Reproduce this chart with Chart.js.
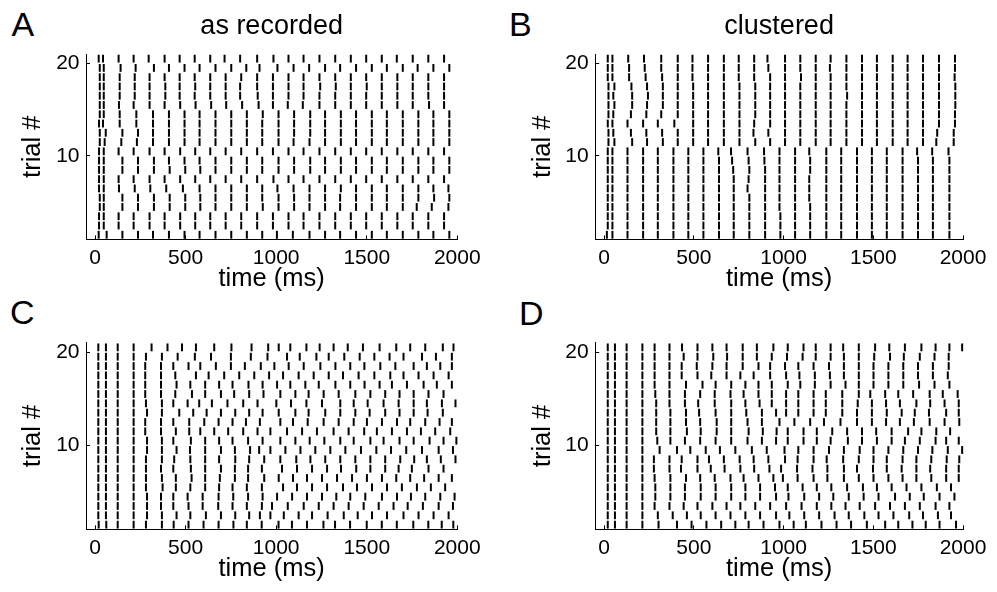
<!DOCTYPE html>
<html>
<head>
<meta charset="utf-8">
<title>Spike rasters</title>
<script src="https://cdn.jsdelivr.net/npm/chart.js"></script>
<style>
  body { margin: 0; background: #fff; }
  #wrap { position: relative; width: 997px; height: 592px; overflow: hidden; }
  canvas { position: absolute; }
  .letter { position: absolute; font-family: 'Liberation Sans', Arial, sans-serif; font-size: 34px; line-height: 1; color: #000; }
</style>
</head>
<body>
<div id="wrap">
  <div class="letter" style="left:11.5px; top:7.3px;">A</div>
  <div class="letter" style="left:509px; top:7.3px;">B</div>
  <div class="letter" style="left:10px; top:294.5px;">C</div>
  <div class="letter" style="left:519px; top:295.5px;">D</div>
  <canvas id="panel-a" width="498" height="296" style="left:0; top:0;"></canvas>
  <canvas id="panel-b" width="499" height="296" style="left:498px; top:0;"></canvas>
  <canvas id="panel-c" width="498" height="296" style="left:0; top:296px;"></canvas>
  <canvas id="panel-d" width="499" height="296" style="left:498px; top:296px;"></canvas>
</div>
<script>
// spike times in ms, one list per trial, listed from trial 20 (top) down to trial 1
const spikesA = [
  [20,44,130,213,296,384,467,550,636,715,801,895,985,1068,1151,1239,1326,1412,1497,1583,1666,1754,1840,1927],
  [26,48,141,224,325,408,494,577,665,752,835,908,1007,1096,1182,1270,1353,1441,1528,1611,1699,1781,1868,1956],
  [26,48,136,219,301,384,467,550,636,721,807,895,982,1068,1151,1239,1326,1412,1497,1583,1669,1754,1840,1927],
  [26,48,136,219,301,388,467,553,636,721,801,895,982,1068,1151,1243,1329,1412,1500,1583,1669,1754,1840,1927],
  [26,48,136,219,301,388,467,550,636,721,801,898,982,1068,1151,1239,1326,1412,1497,1583,1669,1754,1840,1927],
  [26,48,132,213,301,384,470,555,641,724,812,903,982,1064,1147,1239,1326,1412,1497,1583,1669,1754,1844,1927],
  [26,48,136,228,320,408,494,577,665,752,838,926,1013,1099,1188,1270,1357,1441,1528,1611,1699,1785,1868,1956],
  [22,44,136,228,320,408,494,577,665,752,838,923,1013,1099,1188,1270,1357,1441,1528,1611,1699,1785,1868,1956],
  [26,59,151,237,320,408,494,577,665,752,838,923,1013,1099,1188,1270,1357,1441,1528,1611,1699,1785,1868,1956],
  [26,53,145,231,320,408,494,577,665,752,838,923,1013,1096,1184,1270,1357,1441,1528,1611,1699,1785,1868,1956],
  [22,48,130,213,301,384,470,553,636,721,807,895,982,1068,1151,1239,1326,1412,1497,1583,1669,1754,1840,1927],
  [22,48,151,237,325,408,494,577,665,752,838,923,1013,1099,1188,1270,1357,1441,1528,1611,1699,1785,1868,1956],
  [22,48,151,237,325,412,498,581,665,752,838,923,1013,1099,1188,1270,1357,1441,1528,1611,1699,1785,1868,1956],
  [22,48,130,213,301,384,470,553,636,721,807,895,985,1068,1151,1239,1326,1412,1497,1583,1669,1754,1840,1927],
  [22,48,132,219,305,393,485,577,665,752,838,923,1007,1096,1184,1270,1357,1441,1528,1611,1699,1785,1868,1951],
  [26,48,151,237,325,412,498,581,665,752,838,923,1013,1099,1184,1270,1353,1441,1528,1611,1699,1785,1872,1956],
  [26,48,151,237,325,412,498,581,665,752,838,926,1013,1099,1184,1270,1353,1441,1528,1611,1699,1776,1859,1951],
  [22,48,130,213,301,384,470,553,636,721,807,895,982,1068,1151,1239,1326,1412,1497,1583,1669,1754,1840,1927],
  [22,48,130,213,301,384,470,553,636,721,807,895,982,1068,1151,1239,1326,1412,1497,1583,1669,1754,1840,1927],
  [20,64,151,237,320,408,494,577,665,752,838,923,1004,1092,1184,1270,1353,1441,1528,1611,1699,1785,1868,1956]
];

const spikesB = [
  [20,46,134,222,318,410,492,579,667,750,836,910,1008,1093,1179,1262,1350,1437,1520,1608,1691,1777,1866,1955],
  [20,46,139,226,318,410,492,579,667,750,836,915,1008,1093,1179,1258,1350,1437,1520,1608,1691,1777,1866,1955],
  [20,46,139,231,323,410,492,579,667,750,836,925,1008,1097,1179,1262,1350,1437,1520,1608,1691,1777,1866,1953],
  [24,57,152,239,327,410,496,579,667,754,842,925,1008,1093,1179,1262,1350,1437,1520,1608,1691,1777,1866,1957],
  [24,51,156,244,327,410,496,579,667,754,842,925,1008,1093,1179,1262,1354,1437,1520,1608,1691,1777,1866,1957],
  [24,57,156,239,327,410,496,579,667,754,842,925,1008,1093,1179,1262,1350,1437,1520,1608,1691,1777,1866,1957],
  [24,51,149,235,318,410,496,579,667,754,842,925,1008,1093,1179,1262,1350,1437,1520,1608,1691,1777,1866,1955],
  [20,46,130,217,299,391,496,579,667,754,836,925,1008,1093,1179,1262,1350,1437,1520,1608,1691,1777,1866,1955],
  [24,51,149,235,323,410,496,579,667,754,832,915,1008,1093,1179,1262,1350,1437,1520,1608,1691,1777,1856,1948],
  [24,57,156,239,327,410,496,579,667,754,842,925,1008,1093,1179,1262,1350,1437,1520,1608,1691,1777,1851,1948],
  [20,46,130,217,299,386,469,553,636,707,799,891,977,1064,1143,1238,1321,1409,1492,1575,1663,1744,1828,1919],
  [20,46,130,217,299,386,469,553,640,713,805,893,977,1064,1148,1238,1321,1409,1492,1575,1663,1749,1832,1924],
  [20,46,130,217,299,386,469,553,640,719,809,897,977,1064,1148,1238,1321,1409,1492,1575,1663,1749,1832,1924],
  [20,46,130,217,299,386,469,553,640,722,805,897,977,1064,1143,1238,1321,1409,1492,1575,1663,1749,1832,1924],
  [20,46,130,217,299,386,469,553,640,722,799,897,977,1064,1143,1238,1321,1409,1492,1575,1663,1749,1832,1924],
  [20,46,130,217,299,386,469,553,640,722,809,897,977,1064,1143,1238,1321,1409,1492,1575,1663,1749,1832,1924],
  [20,46,130,217,299,386,469,553,640,722,809,897,977,1064,1148,1238,1321,1409,1492,1575,1663,1749,1832,1924],
  [20,46,130,217,299,386,469,553,640,722,809,897,982,1064,1148,1238,1321,1409,1492,1575,1663,1749,1832,1924],
  [20,46,130,217,299,386,469,553,640,722,809,897,982,1064,1148,1238,1321,1409,1492,1575,1663,1749,1832,1924],
  [15,46,130,217,299,386,469,553,640,722,809,897,982,1064,1148,1238,1321,1409,1492,1575,1663,1749,1832,1924]
];

const spikesC = [
  [18,60,125,213,312,400,480,557,658,753,864,956,1014,1078,1167,1240,1317,1395,1479,1571,1663,1740,1823,1920,1979],
  [18,60,125,213,281,369,456,551,640,750,860,952,1060,1130,1222,1290,1376,1461,1542,1626,1703,1805,1882,1970],
  [18,60,125,213,277,364,432,516,581,667,750,827,915,990,1069,1152,1244,1327,1409,1487,1575,1658,1759,1832,1906,1970],
  [18,60,125,213,277,364,443,557,627,713,796,879,961,1038,1124,1207,1290,1369,1455,1542,1630,1703,1786,1869,1952],
  [18,60,125,213,277,364,450,526,608,685,759,847,925,1005,1078,1161,1235,1327,1409,1488,1571,1639,1722,1814,1887,1970],
  [18,60,125,213,277,364,443,535,608,695,768,851,930,1023,1106,1179,1262,1345,1437,1520,1602,1681,1759,1841,1924],
  [18,60,125,213,281,369,432,511,575,645,731,818,897,1001,1082,1167,1253,1354,1428,1505,1593,1676,1759,1832,1915,1990],
  [18,60,125,213,287,369,465,542,616,695,774,851,925,1014,1106,1179,1271,1354,1437,1516,1602,1681,1759,1836,1920],
  [18,60,125,213,277,364,432,520,603,682,759,833,910,1023,1093,1174,1262,1345,1428,1501,1584,1667,1740,1823,1902,1970],
  [18,60,125,213,277,364,446,520,581,658,735,818,897,968,1060,1143,1225,1317,1400,1486,1556,1639,1722,1799,1878,1961],
  [18,60,125,213,287,369,432,529,608,685,759,845,925,1023,1106,1185,1266,1354,1428,1520,1593,1681,1759,1847,1924,1995],
  [18,60,125,213,287,369,450,524,608,695,772,856,906,968,1051,1134,1216,1299,1382,1468,1553,1634,1718,1805,1897,1976],
  [18,60,125,213,281,369,437,526,608,685,774,851,934,1023,1111,1189,1271,1354,1437,1520,1602,1685,1762,1832,1909,1990],
  [18,60,125,213,281,364,432,529,608,695,772,845,921,1032,1115,1198,1281,1358,1442,1520,1602,1676,1749,1841,1924],
  [18,60,125,213,281,369,446,533,608,689,772,845,934,1014,1093,1170,1253,1336,1419,1501,1584,1663,1740,1817,1897,1970],
  [18,60,125,213,281,373,446,526,608,685,759,838,921,1038,1115,1198,1281,1369,1446,1529,1612,1694,1777,1854,1933],
  [18,60,125,213,287,364,432,511,594,682,763,845,925,1005,1088,1170,1253,1332,1409,1492,1584,1667,1744,1823,1906,1985],
  [18,60,125,213,287,364,432,516,594,680,759,838,921,977,1064,1152,1235,1317,1400,1483,1566,1648,1726,1810,1897,1976],
  [18,60,125,213,287,369,450,526,612,695,774,851,910,968,1042,1124,1198,1284,1373,1450,1529,1612,1703,1786,1869,1952],
  [20,62,125,213,281,369,434,516,599,682,764,838,920,1013,1087,1170,1261,1325,1408,1500,1583,1666,1757,1840,1914,1978]
];

const spikesD = [
  [20,60,125,213,281,364,434,520,603,682,772,851,943,1023,1111,1179,1262,1332,1419,1510,1589,1676,1768,1847,1924,1995],
  [20,60,125,213,281,364,443,520,608,685,772,851,934,1019,1106,1179,1262,1336,1419,1505,1593,1670,1759,1841,1920],
  [20,60,125,213,281,364,432,516,603,682,772,860,925,1008,1082,1167,1253,1336,1419,1501,1584,1667,1749,1832,1920],
  [20,60,125,213,281,364,432,520,597,682,759,833,925,1014,1088,1174,1258,1336,1419,1501,1584,1667,1749,1832,1915],
  [20,60,125,213,281,364,456,548,621,708,787,860,934,1023,1093,1174,1262,1345,1419,1501,1584,1667,1755,1841,1924],
  [20,60,125,213,285,364,450,535,616,704,777,860,934,1014,1082,1167,1235,1327,1419,1483,1566,1639,1722,1814,1887,1970],
  [20,60,125,213,290,364,450,524,616,708,787,866,934,1014,1082,1167,1235,1327,1413,1492,1571,1648,1740,1817,1897,1976],
  [20,60,125,213,290,369,456,529,621,708,792,879,958,1014,1082,1167,1235,1327,1409,1492,1575,1658,1731,1810,1906,1976],
  [20,60,125,213,290,369,456,535,627,708,799,879,977,1060,1148,1225,1317,1409,1492,1571,1648,1726,1814,1897,1979],
  [20,60,125,213,290,369,461,538,627,708,805,884,961,1023,1111,1185,1271,1354,1437,1516,1602,1694,1768,1851,1928],
  [20,60,125,213,296,369,450,535,621,708,799,879,958,1023,1111,1185,1262,1358,1437,1520,1602,1676,1759,1847,1906,1976],
  [20,60,125,213,309,406,480,566,645,731,823,906,1005,1082,1167,1253,1336,1424,1501,1584,1667,1749,1829,1915,1995],
  [20,60,125,213,277,364,432,520,584,667,755,833,915,1008,1078,1167,1240,1332,1419,1501,1575,1663,1740,1823,1909,1979],
  [20,60,125,213,277,364,428,520,594,671,759,836,921,986,1075,1161,1244,1336,1409,1498,1575,1658,1740,1817,1906,1976],
  [20,60,125,213,281,369,456,535,616,704,777,860,943,996,1078,1167,1244,1336,1419,1501,1584,1663,1740,1823,1906,1976],
  [20,60,125,213,285,369,450,538,621,708,787,869,952,1023,1106,1185,1266,1354,1442,1520,1602,1685,1768,1854,1933],
  [20,60,125,213,285,369,450,538,621,708,787,869,958,1027,1115,1198,1277,1363,1446,1529,1621,1703,1781,1869,1952],
  [20,60,125,213,281,364,443,520,603,682,759,842,925,1014,1100,1185,1266,1345,1424,1510,1593,1676,1759,1847,1924],
  [20,60,125,213,299,382,461,538,621,704,787,869,958,1032,1115,1198,1284,1363,1450,1529,1612,1700,1777,1860,1933],
  [20,60,125,213,303,406,487,570,652,731,805,888,977,1056,1124,1211,1295,1376,1464,1566,1639,1718,1792,1869,1961]
];

const xTicks = [0, 500, 1000, 1500, 2000];
const yTicks = [10, 20];
const titles = ['as recorded', 'clustered', '', ''];

Chart.defaults.font.family = "'Liberation Sans', Arial, sans-serif";
Chart.defaults.color = '#000';

function rasterPanel(id, spikes, title, g) {
  const points = [];
  spikes.forEach((train, i) => {
    const trial = spikes.length - i;
    train.forEach(t => points.push({ x: t, y: trial + 0.5 }));
  });

  const axisGrid = { drawOnChartArea: false, tickLength: -4, tickColor: '#000', tickWidth: 1 };
  const axisBorder = { color: '#000', width: 1 };

  return new Chart(document.getElementById(id), {
    type: 'scatter',
    data: {
      datasets: [{
        data: points,
        pointStyle: 'line',
        pointRotation: 90,
        pointRadius: 3.9,
        pointBorderWidth: 2,
        pointBorderColor: '#000',
        pointBackgroundColor: '#000',
        clip: false
      }]
    },
    options: {
      responsive: false,
      animation: false,
      events: [],
      layout: { padding: { top: g.padTop, right: g.padRight, left: 0, bottom: 0 } },
      plugins: {
        legend: { display: false },
        tooltip: { enabled: false },
        title: {
          display: title !== '',
          text: title,
          fullSize: false,
          font: { size: 27, weight: 'normal' },
          color: '#000',
          padding: { top: 10.4, bottom: 11.2 }
        }
      },
      scales: {
        x: {
          type: 'linear',
          min: -50,
          max: 2000,
          afterBuildTicks: s => { s.ticks = xTicks.map(v => ({ value: v })); },
          afterFit: s => { s.height = g.xH; },
          grid: axisGrid,
          border: axisBorder,
          ticks: {
            font: { size: 21 }, color: '#000', padding: 10.6, maxRotation: 0, autoSkip: false,
            callback: v => String(v)
          },
          title: { display: true, text: 'time (ms)', font: { size: 25.5 }, color: '#000', padding: { top: 0, bottom: g.xTitlePad } }
        },
        y: {
          type: 'linear',
          min: 1,
          max: 21,
          afterBuildTicks: s => { s.ticks = yTicks.map(v => ({ value: v })); },
          afterFit: s => { s.width = g.yW; },
          grid: axisGrid,
          border: axisBorder,
          ticks: { font: { size: 21 }, color: '#000', padding: 10.5, callback: v => String(v) },
          title: { display: true, text: 'trial #', font: { size: 25.5 }, color: '#000', padding: { top: g.yTitlePad, bottom: 0 } }
        }
      }
    }
  });
}

rasterPanel('panel-a', spikesA, titles[0], { padTop: 0, padRight: 40.7, yW: 86, xH: 56.6, xTitlePad: 1.5, yTitlePad: 17.9 });
rasterPanel('panel-b', spikesB, titles[1], { padTop: 0, padRight: 30.1, yW: 97.2, xH: 56.6, xTitlePad: 1.5, yTitlePad: 29.6 });
rasterPanel('panel-c', spikesC, titles[2], { padTop: 46.7, padRight: 40.7, yW: 86, xH: 62.7, xTitlePad: 7.6, yTitlePad: 17.9 });
rasterPanel('panel-d', spikesD, titles[3], { padTop: 46.7, padRight: 30.1, yW: 97.2, xH: 62.7, xTitlePad: 7.6, yTitlePad: 29.6 });
</script>
</body>
</html>
